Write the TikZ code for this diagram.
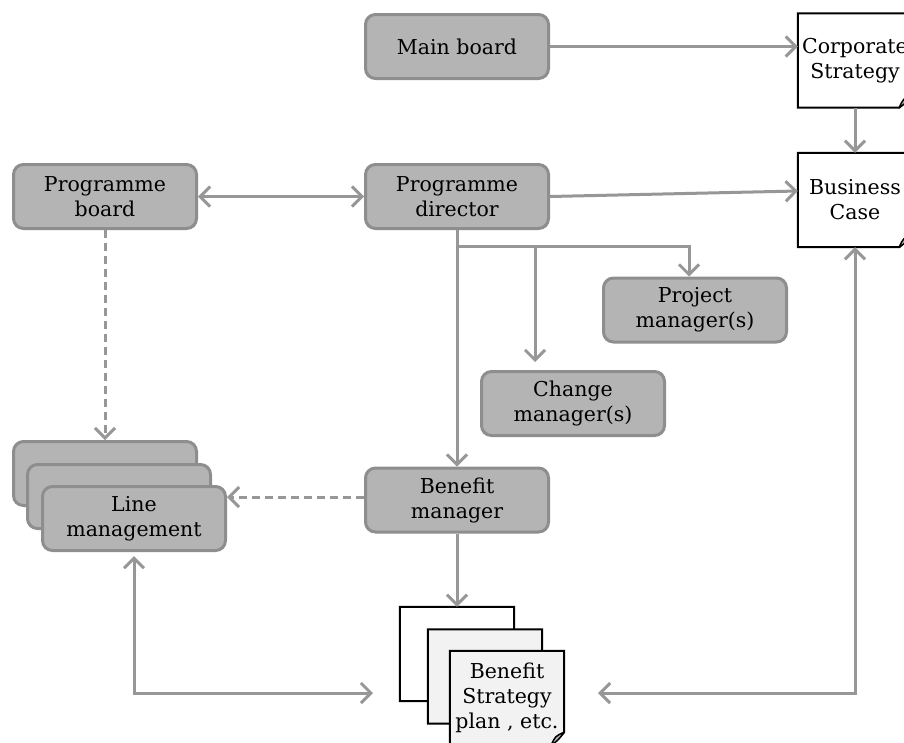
\documentclass[tikz,border=0pt]{standalone}
\usepackage{fontspec}
\setmainfont{DejaVu Serif}
\usetikzlibrary{arrows.meta,backgrounds}

\definecolor{boxfill}{HTML}{B4B4B4}
\definecolor{boxline}{HTML}{8E8E8E}
\definecolor{linkc}{HTML}{979797}
\definecolor{paper}{HTML}{F2F2F2}

\newcommand\lbl{\fontsize{20.5}{25}\selectfont}

% document outline with a curled bottom-right corner, drawn around a node
\newcommand\docoutline[2]{%
  \draw[line width=2pt, fill=#2, line join=miter]
    (#1.north west) -- (#1.north east) -- ([yshift=13pt]#1.south east)
    -- ([xshift=-13pt]#1.south east) -- (#1.south west) -- cycle;
  \draw[line width=1.5pt, fill=black!30, line join=round]
    ([xshift=-13pt]#1.south east)
    .. controls ([xshift=-9pt,yshift=9pt]#1.south east) .. ([yshift=13pt]#1.south east)
    .. controls ([xshift=-6pt,yshift=5pt]#1.south east) .. cycle;
}

\tikzset{
  >={Straight Barb[length=10pt,width=20pt]},
  role/.style={draw=boxline, fill=boxfill, line width=3pt, rounded corners=10pt,
    minimum width=183pt, minimum height=64pt, align=center, inner sep=0pt, font=\lbl},
  paperdoc/.style={minimum width=114pt, minimum height=94pt, align=center,
    inner sep=0pt, font=\lbl},
  link/.style={draw=linkc, line width=3pt, ->},
  twoway/.style={draw=linkc, line width=3pt, <->},
  softlink/.style={link, dash pattern=on 8pt off 5pt},
}

\begin{document}
\begin{tikzpicture}[x=1pt,y=-1pt]
\useasboundingbox (0,0) rectangle (904,742);

% roles
\node[role] (mb) at (457,46.5) {Main board};
\node[role] (pb) at (105,196.5) {Programme\\board};
\node[role] (pd) at (457,196.5) {Programme\\director};
\node[role] (pm) at (695,310) {Project\\manager(s)};
\node[role] (cm) at (573,403.5) {Change\\manager(s)};
\node[role] (bm) at (457,500) {Benefit\\manager};

% stack of line management units
\node[role] (lmA) at (105,473.5) {};
\node[role] (lmB) at (119,496.5) {};
\node[role] (lmC) at (134,518.5) {Line\\management};

% documents
\node[paperdoc] (corp) at (855,60.5) {Corporate\\Strategy};
\node[paperdoc] (busi) at (855,200) {Business\\Case};
\node[paperdoc] (bsA) at (457,654) {};
\node[paperdoc] (bsB) at (485,676.5) {};
\node[paperdoc] (bsC) at (507,698) {Benefit\\Strategy\\plan , etc.};
\begin{scope}[on background layer]
  \fill[white] (0,0) rectangle (904,742);
  \docoutline{corp}{white}
  \docoutline{busi}{white}
  \docoutline{bsA}{white}
  \docoutline{bsB}{paper}
  \docoutline{bsC}{paper}
\end{scope}

% connectors
\draw[link] (mb.east) -- (mb.east -| corp.west);
\draw[link] (corp.south) -- (busi.north);
\draw[twoway] (pb.east) -- (pd.west);
\draw[link] (pd.east) -- ([yshift=9pt]busi.west);
\draw[link] (pd.south) -- (bm.north);

\path (pd.south) ++(0,16) coordinate (fork);
\coordinate (cmIn) at (535,362);
\draw[link] (fork) -| ([xshift=-6pt]pm.north);
\draw[link] (cmIn |- fork) -- (cmIn);

\draw[softlink] (pb.south) -- (lmA.north);
\draw[softlink] ([yshift=3pt]bm.west) -- ([yshift=3pt]bm.west -| lmC.east);
\draw[link] (bm.south) -- (bsA.north);

\coordinate (leftIn) at (373,693);
\coordinate (rightIn) at (598,693);
\draw[twoway] ([yshift=-4pt]lmC.south) |- (leftIn);
\draw[twoway] (busi.south) |- (rightIn);
\end{tikzpicture}
\end{document}
